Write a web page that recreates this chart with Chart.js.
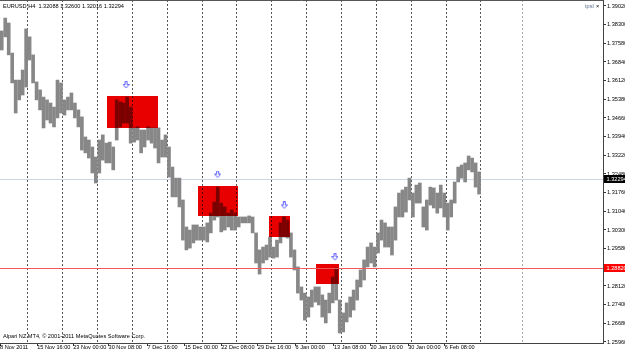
<!DOCTYPE html>
<html>
<head>
<meta charset="utf-8">
<script src="https://cdn.jsdelivr.net/npm/chart.js@4.4.1/dist/chart.umd.min.js"></script>
<style>
  html, body { margin: 0; padding: 0; background: #fff; }
  #wrap { width: 625px; height: 352px; }
</style>
</head>
<body>
<div id="wrap"><canvas id="chart" width="625" height="352"></canvas></div>
<script>
// EURUSD H4 - each entry is one block of 3 H4 bars
const barsPerGroup = 3;
const groupHighs = [
  1.3805, 1.3855, 1.3836, 1.3719, 1.3614, 1.3614, 1.3653, 1.3813, 1.3782, 1.3712,
  1.3607, 1.3576, 1.3548, 1.3537, 1.3525, 1.3509, 1.3614, 1.3603, 1.3537, 1.3548,
  1.3564, 1.3525, 1.3498, 1.3471, 1.3393, 1.3381, 1.3354, 1.3315, 1.3381, 1.3401,
  1.3369, 1.3373, 1.3354, 1.3537, 1.3529, 1.3525, 1.3548, 1.3509, 1.3428, 1.3432,
  1.3420, 1.3420, 1.3432, 1.3428, 1.3428, 1.3428, 1.3381, 1.3401, 1.3354, 1.3276,
  1.3233, 1.3233, 1.3148, 1.3043, 1.3031, 1.3051, 1.3051, 1.3043, 1.3043, 1.3059,
  1.3097, 1.3140, 1.3198, 1.3136, 1.3121, 1.3097, 1.3109, 1.3097, 1.3082, 1.3082,
  1.3082, 1.3086, 1.3082, 1.3020, 1.2954, 1.2965, 1.2973, 1.3004, 1.2965, 1.2992,
  1.3059, 1.3082, 1.3070, 1.3020, 1.2954, 1.2888, 1.2810, 1.2786, 1.2771, 1.2798,
  1.2810, 1.2810, 1.2779, 1.2759, 1.2786, 1.2849, 1.2884, 1.2759, 1.2709, 1.2748,
  1.2771, 1.2798, 1.2837, 1.2876, 1.2915, 1.2965, 1.2981, 1.2965, 1.3020, 1.3070,
  1.3059, 1.3043, 1.3043, 1.3121, 1.3175, 1.3187, 1.3198, 1.3233, 1.3175, 1.3206,
  1.3214, 1.3121, 1.3148, 1.3198, 1.3195, 1.3175, 1.3206, 1.3175, 1.3136, 1.3148,
  1.3218, 1.3276, 1.3284, 1.3292, 1.3319, 1.3311, 1.3292, 1.3257
];
const groupLows = [
  1.3731, 1.3782, 1.3712, 1.3603, 1.3486, 1.3537, 1.3556, 1.3587, 1.3692, 1.3603,
  1.3537, 1.3498, 1.3428, 1.3459, 1.3447, 1.3432, 1.3467, 1.3486, 1.3478, 1.3498,
  1.3498, 1.3467, 1.3432, 1.3342, 1.3331, 1.3311, 1.3253, 1.3214, 1.3253, 1.3303,
  1.3292, 1.3292, 1.3265, 1.3381, 1.3432, 1.3447, 1.3447, 1.3369, 1.3373, 1.3381,
  1.3331, 1.3354, 1.3381, 1.3369, 1.3350, 1.3292, 1.3315, 1.3315, 1.3237, 1.3160,
  1.3160, 1.3121, 1.2992, 1.2954, 1.2961, 1.2981, 1.2992, 1.2992, 1.2992, 1.2985,
  1.3020, 1.3070, 1.3082, 1.3024, 1.3031, 1.3043, 1.3031, 1.3031, 1.3043, 1.3059,
  1.3059, 1.3059, 1.3020, 1.2903, 1.2860, 1.2903, 1.2915, 1.2926, 1.2922, 1.2926,
  1.2981, 1.3004, 1.3000, 1.2926, 1.2876, 1.2786, 1.2759, 1.2681, 1.2693, 1.2732,
  1.2751, 1.2740, 1.2693, 1.2670, 1.2709, 1.2748, 1.2759, 1.2631, 1.2635, 1.2674,
  1.2693, 1.2720, 1.2759, 1.2810, 1.2837, 1.2888, 1.2903, 1.2888, 1.2942, 1.2992,
  1.2965, 1.2965, 1.2934, 1.2992, 1.3082, 1.3082, 1.3101, 1.3148, 1.3082, 1.3136,
  1.3136, 1.3043, 1.3031, 1.3128, 1.3117, 1.3097, 1.3117, 1.3082, 1.3031, 1.3082,
  1.3136, 1.3218, 1.3233, 1.3218, 1.3265, 1.3257, 1.3198, 1.3171
];

// price axis
const priceTickLabels = ['1.25960', '1.26680', '1.27400', '1.28120', '1.28860', '1.29580', '1.30300',
  '1.31040', '1.31760', '1.32480', '1.33220', '1.33940', '1.34660', '1.35380', '1.36120',
  '1.36840', '1.37580', '1.38300', '1.39020'];
const priceTickFirst = 1.25960, priceTickLast = 1.39020;
const priceMin = 1.25921, priceMax = 1.39253;

// time axis (x in H4 bar numbers)
const timeLabels = ['8 Nov 2011', '15 Nov 16:00', '23 Nov 00:00', '30 Nov 08:00', '7 Dec 16:00',
  '15 Dec 00:00', '22 Dec 08:00', '29 Dec 16:00', '6 Jan 00:00', '13 Jan 08:00', '20 Jan 16:00',
  '30 Jan 00:00', '6 Feb 08:00'];
const timeLabelBars = [0, 32, 63, 93.5, 127, 159, 190.5, 222, 254.5, 287.5, 319, 351.5, 383];
const weekStartBars = [23, 53.6, 83.8, 113.9, 143.5, 173.7, 203.4, 233.6, 263.5, 293.6, 323.5, 353.6, 383.7, 413.5];
const vLineBar = 449.4;
const lastBar = 519.2;

// objects on the chart
const boxStartBars = [92.4, 170.7, 231.6, 272.3];
const boxEndBars = [136.3, 205.2, 249.9, 291.9];
const boxTops = [1.3553, 1.3202, 1.3086, 1.2899];
const boxBottoms = [1.3427, 1.3086, 1.3003, 1.2821];
const arrowBars = [108.5, 187.4, 244.8, 288.4];
const arrowPrices = [1.3595, 1.3247, 1.3127, 1.2926];
const bidPrice = 1.32294;
const levelPrice = 1.28820;
const levelLabel = '1.28820';

const headerText = 'EURUSD,H4  1.32088 1.32600 1.32016 1.32294';
const footerText = 'Alpari NZ MT4, \u00a9 2001-2011 MetaQuotes Software Corp.';

const fontFamily = "'Liberation Sans', Arial, sans-serif";
const fontSize = 5.6;
const smallFont = fontSize + 'px ' + fontFamily;

function makeArrow() {
    const c = document.createElement('canvas');
    c.width = 7; c.height = 8;
    const g = c.getContext('2d');
    g.strokeStyle = '#5a5aff';
    g.lineWidth = 1;
    g.beginPath();
    g.moveTo(2.5, 0.5); g.lineTo(4.5, 0.5); g.lineTo(4.5, 3.5); g.lineTo(6.5, 3.5);
    g.lineTo(3.5, 7); g.lineTo(0.5, 3.5); g.lineTo(2.5, 3.5); g.closePath();
    g.stroke();
    return c;
}

const barData = groupHighs.map((h, i) => ({ x: i * barsPerGroup + 1.5, y: [groupLows[i], h] }));
const arrowData = arrowBars.map((b, i) => ({ x: b, y: arrowPrices[i] }));

const mt4Plugin = {
    id: 'mt4',
    beforeDatasetsDraw(chart) {
        const { ctx, chartArea: a, scales: { x, y } } = chart;
        ctx.save();
        // period separators
        ctx.lineWidth = 1;
        ctx.setLineDash([2, 2]);
        ctx.strokeStyle = '#555';
        weekStartBars.forEach(b => {
            const px = Math.round(x.getPixelForValue(b)) + 0.5;
            ctx.beginPath(); ctx.moveTo(px, a.top); ctx.lineTo(px, a.bottom); ctx.stroke();
        });
        ctx.strokeStyle = '#aaa';
        const vx = Math.round(x.getPixelForValue(vLineBar)) + 0.5;
        ctx.beginPath(); ctx.moveTo(vx, a.top); ctx.lineTo(vx, a.bottom); ctx.stroke();
        ctx.setLineDash([]);
        // bid line
        ctx.strokeStyle = '#c9d7e6';
        const by = Math.round(y.getPixelForValue(bidPrice)) + 0.5;
        ctx.beginPath(); ctx.moveTo(a.left, by); ctx.lineTo(a.right, by); ctx.stroke();
        ctx.restore();
    },
    afterDatasetsDraw(chart) {
        const { ctx, chartArea: a, scales: { x, y } } = chart;
        ctx.save();
        // rectangles, mixed into the bars under them
        ctx.globalCompositeOperation = 'multiply';
        ctx.fillStyle = 'rgb(232,0,0)';
        boxStartBars.forEach((b, i) => {
            const x0 = x.getPixelForValue(b), x1 = x.getPixelForValue(boxEndBars[i]);
            const y0 = y.getPixelForValue(boxTops[i]), y1 = y.getPixelForValue(boxBottoms[i]);
            ctx.fillRect(Math.round(x0), Math.round(y0), Math.round(x1 - x0), Math.round(y1 - y0));
        });
        ctx.globalCompositeOperation = 'source-over';
        // level line
        ctx.strokeStyle = '#f05a5a';
        ctx.lineWidth = 1;
        const ly = Math.round(y.getPixelForValue(levelPrice)) + 0.5;
        ctx.beginPath(); ctx.moveTo(a.left, ly); ctx.lineTo(a.right, ly); ctx.stroke();
        // frame top
        ctx.strokeStyle = '#555';
        ctx.beginPath(); ctx.moveTo(a.left, 0.5); ctx.lineTo(a.right, 0.5); ctx.stroke();
        // texts
        ctx.font = smallFont;
        ctx.textBaseline = 'middle';
        ctx.fillStyle = '#000';
        ctx.fillText(headerText, 3, 6.5);
        ctx.fillText(footerText, 3, 336.5);
        ctx.fillStyle = '#5b6f8f';
        ctx.fillText('tpsl', 585, 6.5);
        ctx.fillStyle = '#000';
        ctx.fillText('\u00d7', 596, 6.5);
        ctx.restore();
    },
    afterDraw(chart) {
        const { ctx, chartArea: a, scales: { y } } = chart;
        ctx.save();
        ctx.font = smallFont;
        ctx.textBaseline = 'middle';
        const tags = [[bidPrice, bidPrice.toFixed(5), '#000'], [levelPrice, levelLabel, '#f00']];
        tags.forEach(t => {
            const py = Math.round(y.getPixelForValue(t[0]));
            ctx.fillStyle = t[2];
            ctx.fillRect(a.right + 1, py - 4, 22, 8);
            ctx.fillStyle = '#fff';
            ctx.fillText(t[1], a.right + 3.5, py + 0.5);
        });
        ctx.restore();
    }
};

new Chart(document.getElementById('chart'), {
    type: 'bar',
    data: {
        datasets: [{
            data: barData,
            backgroundColor: 'rgb(135,135,135)',
            borderWidth: 0,
            barThickness: 3,
            order: 2
        }, {
            type: 'scatter',
            data: arrowData,
            pointStyle: makeArrow(),
            order: 1
        }]
    },
    options: {
        responsive: false,
        animation: false,
        events: [],
        layout: { padding: 0, autoPadding: false },
        plugins: { legend: { display: false }, tooltip: { enabled: false } },
        scales: {
            x: {
                type: 'linear',
                min: 0,
                max: lastBar,
                offset: false,
                afterBuildTicks: s => { s.ticks = timeLabelBars.map(v => ({ value: v })); },
                afterFit: s => { s.height = 9; s.paddingLeft = 0; s.paddingRight = 0; },
                ticks: {
                    autoSkip: false,
                    maxRotation: 0,
                    align: 'start',
                    padding: -2,
                    color: '#000',
                    font: { family: fontFamily, size: fontSize },
                    callback: (v, i) => timeLabels[i]
                },
                grid: { drawOnChartArea: false, offset: false, tickLength: 3, color: '#333' },
                border: { display: true, color: '#444' }
            },
            y: {
                position: 'right',
                min: priceMin,
                max: priceMax,
                afterBuildTicks: s => {
                    const step = (priceTickLast - priceTickFirst) / (priceTickLabels.length - 1);
                    s.ticks = priceTickLabels.map((t, k) => ({ value: priceTickFirst + k * step }));
                },
                afterFit: s => { s.width = 22; s.paddingTop = 0; s.paddingBottom = 0; },
                ticks: {
                    padding: 1,
                    color: '#000',
                    font: { family: fontFamily, size: fontSize },
                    callback: (v, i) => priceTickLabels[i]
                },
                grid: { drawOnChartArea: false, tickLength: 3, color: '#333' },
                border: { display: true, color: '#444' }
            }
        }
    },
    plugins: [mt4Plugin]
});
</script>
</body>
</html>
